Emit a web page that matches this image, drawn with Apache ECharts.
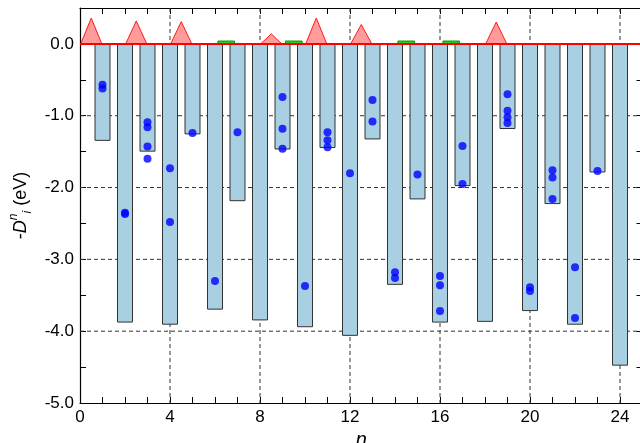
<!DOCTYPE html>
<html>
<head>
<meta charset="utf-8">
<script src="https://cdn.jsdelivr.net/npm/echarts@6/dist/echarts.min.js"></script>
<style>
  html, body { margin: 0; padding: 0; background: #fff; }
  #chart { width: 640px; height: 443px; }
</style>
</head>
<body>
<div id="chart"></div>
<script>
// bar positions n and bar depth (-D, eV)
const nValues = [1, 2, 3, 4, 5, 6, 7, 8, 9, 10, 11, 12, 13, 14, 15, 16, 17, 18, 19, 20, 21, 22, 23, 24];
const barValues = [-1.35, -3.88, -1.50, -3.91, -1.26, -3.70, -2.19, -3.85, -1.47, -3.945, -1.45, -4.065,
  -1.33, -3.355, -2.165, -3.88, -1.98, -3.87, -1.185, -3.72, -2.23, -3.91, -1.79, -4.48];

// blue points [n, value]
const dotPoints = [
  [1, -0.57], [1, -0.62],
  [2, -2.35], [2, -2.37],
  [3, -1.09], [3, -1.16], [3, -1.43], [3, -1.60],
  [4, -1.73], [4, -2.48],
  [5, -1.24],
  [6, -3.30],
  [7, -1.23],
  [9, -0.74], [9, -1.18], [9, -1.46],
  [10, -3.37],
  [11, -1.23], [11, -1.34], [11, -1.44],
  [12, -1.80],
  [13, -0.78], [13, -1.08],
  [14, -3.18], [14, -3.26],
  [15, -1.82],
  [16, -3.23], [16, -3.36], [16, -3.72],
  [17, -1.42], [17, -1.95],
  [19, -0.70], [19, -0.93], [19, -1.02], [19, -1.10],
  [20, -3.39], [20, -3.44],
  [21, -1.76], [21, -1.86], [21, -2.16],
  [22, -3.11], [22, -3.815],
  [23, -1.77]
];

// red peaks above zero
const peakCenters = [0.5, 2.5, 4.5, 8.5, 10.5, 12.5, 18.5];
const peakHeights = [0.36, 0.32, 0.31, 0.14, 0.36, 0.27, 0.305];

// small green blocks above zero
const greenCenters = [6.5, 9.5, 14.5, 16.5];
const greenHeights = [0.04, 0.04, 0.04, 0.04];

// tick labels / grid lines
const xTickLabels = [0, 4, 8, 12, 16, 20, 24];
const yTickLabels = [0, -1, -2, -3, -4, -5];
const gridX = [4, 8, 12, 16, 20, 24];
const gridY = [-4, -3, -2, -1, 0];

const FONT = 'Liberation Sans';
const PEAK_HALF = 0.47;
const GREEN_HALF = 0.37;

const chart = echarts.init(document.getElementById('chart'));

function vGrid(params, api) {
  const p = api.coord([api.value(0), 0]);
  const cs = params.coordSys;
  return {
    type: 'line',
    shape: { x1: p[0], y1: cs.y, x2: p[0], y2: cs.y + cs.height },
    style: { stroke: '#333', lineWidth: 1, lineDash: [4, 3] }
  };
}

function hGrid(params, api) {
  const p = api.coord([0, api.value(1)]);
  const cs = params.coordSys;
  return {
    type: 'line',
    shape: { x1: cs.x, y1: p[1], x2: cs.x + cs.width, y2: p[1] },
    style: { stroke: '#333', lineWidth: 1, lineDash: [4, 3] }
  };
}

function peak(params, api) {
  const c = api.value(0), h = api.value(1);
  const a = api.coord([c - PEAK_HALF, 0]);
  const b = api.coord([c, h]);
  const d = api.coord([c + PEAK_HALF, 0]);
  return {
    type: 'polygon',
    shape: { points: [a, b, d] },
    style: { fill: '#ff9b9b', stroke: '#ff1a1a', lineWidth: 1 }
  };
}

function greenBlock(params, api) {
  const c = api.value(0), h = api.value(1);
  const a = api.coord([c - GREEN_HALF, 0]);
  const b = api.coord([c + GREEN_HALF, h]);
  return {
    type: 'rect',
    shape: { x: a[0], y: b[1], width: b[0] - a[0], height: a[1] - b[1] },
    style: { fill: '#1ed41e', stroke: '#109010', lineWidth: 1 }
  };
}

// ticks point into the plot
const tickIn = { show: true, inside: false, length: -6, lineStyle: { color: '#000' } };
const frameLine = { onZero: false, lineStyle: { color: '#000', width: 1.2 } };

const option = {
  animation: false,
  backgroundColor: '#fff',
  textStyle: { fontFamily: FONT },
  grid: { left: 80, top: 8, width: 562.5, height: 395, outerBoundsMode: 'none' },
  xAxis: [
    {
      type: 'value', position: 'bottom', min: 0, max: 25, interval: 1,
      axisLine: frameLine,
      axisTick: tickIn,
      axisLabel: {
        fontSize: 17, color: '#000', margin: 6, fontFamily: FONT,
        formatter: v => xTickLabels.includes(v) ? String(v) : ''
      },
      splitLine: { show: false },
      name: 'n', nameLocation: 'middle', nameGap: 16,
      nameTextStyle: { fontStyle: 'italic', fontSize: 20, color: '#000', fontFamily: FONT }
    },
    {
      type: 'value', position: 'top', min: 0, max: 25, interval: 1,
      axisLine: frameLine,
      axisTick: tickIn,
      axisLabel: { show: false },
      splitLine: { show: false }
    }
  ],
  yAxis: [
    {
      type: 'value', position: 'left', min: -5, max: 0.5, interval: 0.5,
      axisLine: frameLine,
      axisTick: tickIn,
      axisLabel: {
        fontSize: 17, color: '#000', margin: 6, fontFamily: FONT,
        formatter: v => yTickLabels.some(t => Math.abs(t - v) < 1e-6) ? v.toFixed(1) : ''
      },
      splitLine: { show: false },
      name: '-{d|D}{sup|n}{sub|i} (eV)',
      nameLocation: 'middle', nameRotate: 90, nameGap: 44,
      nameTextStyle: {
        fontSize: 18, color: '#000', fontFamily: FONT, lineHeight: 26,
        rich: {
          d: { fontSize: 18, fontStyle: 'italic', fontFamily: FONT, color: '#000' },
          sup: { fontSize: 12, fontStyle: 'italic', verticalAlign: 'top', fontFamily: FONT, color: '#000' },
          sub: { fontSize: 12, fontStyle: 'italic', verticalAlign: 'bottom', fontFamily: FONT, color: '#000' }
        }
      }
    },
    {
      type: 'value', position: 'right', min: -5, max: 0.5, interval: 0.5,
      axisLine: frameLine,
      axisTick: tickIn,
      axisLabel: { show: false },
      splitLine: { show: false }
    }
  ],
  series: [
    {
      type: 'custom', z: 1, silent: true,
      renderItem: vGrid,
      data: gridX.map(v => [v, 0])
    },
    {
      type: 'custom', z: 1, silent: true,
      renderItem: hGrid,
      data: gridY.map(v => [0, v])
    },
    {
      type: 'bar', z: 2,
      barWidth: 16,
      itemStyle: { color: '#a8cfe2', borderColor: '#333', borderWidth: 1 },
      data: nValues.map((n, i) => [n, barValues[i]])
    },
    {
      type: 'custom', z: 3,
      renderItem: peak,
      data: peakCenters.map((c, i) => [c, peakHeights[i]])
    },
    {
      type: 'custom', z: 3,
      renderItem: greenBlock,
      data: greenCenters.map((c, i) => [c, greenHeights[i]])
    },
    {
      type: 'line', z: 4,
      symbol: 'none',
      lineStyle: { color: '#ff0000', width: 2 },
      data: [[0, 0], [25, 0]]
    },
    {
      type: 'scatter', z: 5,
      symbolSize: 8,
      itemStyle: { color: '#0000ff' },
      data: dotPoints
    }
  ]
};

chart.setOption(option);
</script>
</body>
</html>
